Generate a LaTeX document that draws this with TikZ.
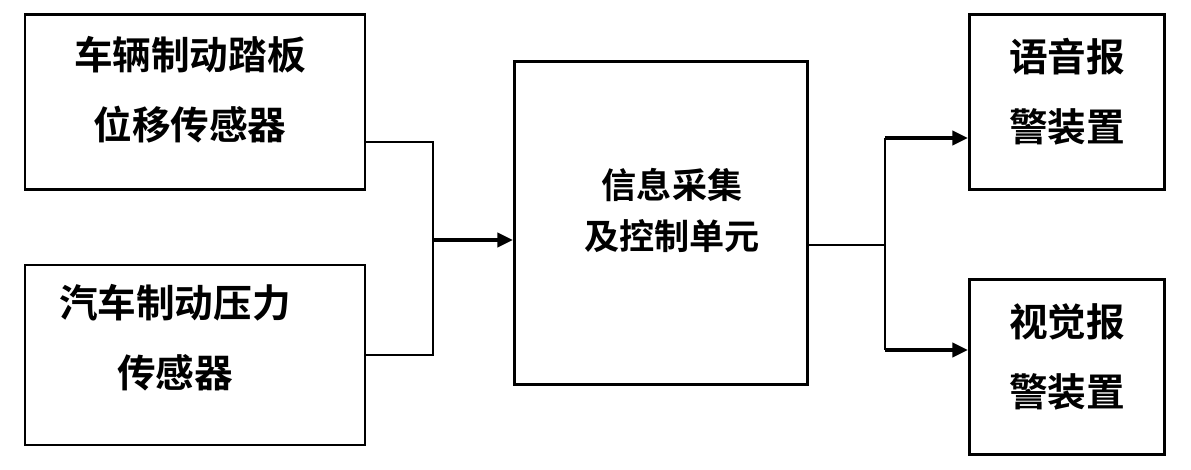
\documentclass[tikz,border=0pt]{standalone}
\usepackage{fontspec}
\newfontfamily\cjk{Noto Sans CJK SC Bold}
\usetikzlibrary{arrows.meta}
\begin{document}
\begin{tikzpicture}[x=0.02cm,y=-0.02cm]

\tikzset{box/.style={draw, line width=1.6pt, align=center, font=\cjk\fontsize{22}{40}\selectfont, inner sep=0pt},
         label/.style={box, draw=none},
         link/.style={line width=1.6pt},
         arr/.style={line width=2.6pt, -{Triangle[length=9pt,width=8pt]}}}

\useasboundingbox (0,0) rectangle (1191,470);

\node[box, minimum width=6.8cm, minimum height=3.5cm] (sensor1) at (195,102) {};
\node[box, minimum width=6.8cm, minimum height=3.6cm] (sensor2) at (195,355) {};
\node[box, minimum width=5.86cm, minimum height=6.46cm] (ctrl) at (661,223) {};
\node[box, minimum width=3.9cm, minimum height=3.5cm] (voice) at (1067,102) {};
\node[box, minimum width=3.9cm, minimum height=3.5cm] (visual) at (1067,367) {};

\node[label] (sensor1text) at (190,90) {车辆制动踏板\\位移传感器};
\node[label] (sensor2text) at (175,338) {汽车制动压力\\传感器};
\node[label, font=\cjk\fontsize{20}{29}\selectfont] (ctrltext) at (672,210) {信息采集\\及控制单元};
\node[label] (voicetext) at (1067,92) {语音报\\警装置};
\node[label] (visualtext) at (1067,357) {视觉报\\警装置};

\coordinate (join) at (433,240);
\coordinate (split) at (885,245);
\coordinate (splittop) at (885,138);
\coordinate (splitbot) at (885,350);

\draw[link] ([yshift=-0.8cm]sensor1.east) -| (join);
\draw[link] (sensor2.east) -| (join);
\draw[arr] (join) -- (join -| ctrl.west);
\draw[link] (ctrl.east |- split) -- (split);
\draw[link] (splittop) -- (splitbot);
\draw[arr] (splittop) -- (splittop -| voice.west);
\draw[arr] (splitbot) -- (splitbot -| visual.west);
\end{tikzpicture}
\end{document}
